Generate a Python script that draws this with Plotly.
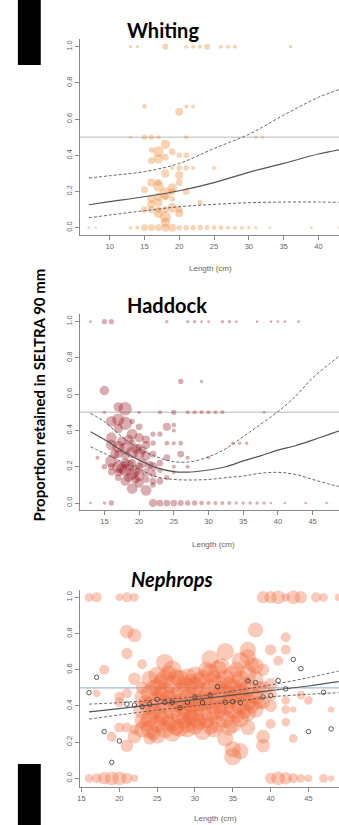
import plotly.graph_objects as go

# ---------------- Whiting ----------------
w_len = [13, 14, 18, 21, 22, 23, 24, 26, 27, 28, 36,
         15, 20, 21, 22,
         13, 15, 16, 17, 21, 31, 32,
         16, 17, 18, 19, 20, 21,
         16, 17, 18, 18, 19, 20, 21, 22, 25,
         20, 20, 17,
         16, 17, 15, 18, 19, 19, 21, 16, 17, 18, 16, 17, 15, 16, 17, 18, 19, 20, 18, 17, 18, 20, 23, 19,
         7, 8, 13, 14, 15, 16, 17, 18, 19, 20, 21, 22, 23, 24, 25, 26, 27, 28, 29, 30, 31, 33, 39, 43]
w_prop = [1, 1, 1, 1, 1, 1, 1, 1, 1, 1, 1,
          0.67, 0.64, 0.67, 0.67,
          0.5, 0.5, 0.5, 0.5, 0.5, 0.5, 0.5,
          0.43, 0.42, 0.46, 0.42, 0.40, 0.40,
          0.37, 0.38, 0.39, 0.30, 0.33, 0.33, 0.33, 0.33, 0.33,
          0.29, 0.25, 0.25,
          0.25, 0.23, 0.21, 0.19, 0.22, 0.20, 0.20, 0.16, 0.17, 0.17, 0.13, 0.14, 0.10, 0.10, 0.10, 0.10, 0.11, 0.10, 0.06, 0.08, 0.03, 0.08, 0.14, 0.16,
          0, 0, 0, 0, 0, 0, 0, 0, 0, 0, 0, 0, 0, 0, 0, 0, 0, 0, 0, 0, 0, 0, 0, 0]
w_n = [2.5, 2.5, 4.5, 3, 3, 3, 4.5, 3, 3, 3, 2.5,
       3.5, 6, 3, 3,
       2.5, 4, 4, 3, 3, 2.5, 2.5,
       4, 8, 7, 5, 4, 4,
       5, 7, 5, 6, 3, 4, 4, 3, 3,
       6, 5, 5,
       6, 8, 5, 9, 7, 5, 5, 6, 6, 5, 6, 6, 5, 5, 5, 5, 7, 5, 8, 7, 7, 6, 4, 4,
       2, 2, 2.5, 3, 5, 5, 5, 6, 6, 4, 4, 4, 4, 3.5, 3.5, 3.5, 3, 3, 3, 2.5, 2.5, 2, 2, 2]

w_fit_len = [7, 10, 15, 20, 25, 30, 35, 40, 43]
w_fit = [0.127, 0.144, 0.171, 0.204, 0.249, 0.306, 0.355, 0.407, 0.43]
w_upper = [0.275, 0.287, 0.31, 0.355, 0.438, 0.516, 0.622, 0.72, 0.764]
w_lower = [0.055, 0.07, 0.094, 0.116, 0.129, 0.138, 0.142, 0.142, 0.14]

# ---------------- Haddock ----------------
h_len = [13, 15, 16, 24, 27, 28, 29, 30, 32, 33, 34, 37, 39, 40, 41, 43, 49,
         26, 29, 15,
         17, 18,
         15, 20, 23, 25, 27, 28, 29, 30, 31, 32, 38,
         16, 17, 18, 17, 19, 20, 21, 21, 22, 23, 16, 16, 17, 18, 19, 20, 21, 22,
         16, 17, 18, 19, 20, 21, 22, 22, 16, 14, 15, 18, 19, 21, 20, 17, 18, 19, 20, 18, 17, 19, 20,
         16, 17, 21, 22, 22, 20, 19,
         17.5, 18.5, 19.5, 20.5, 17.5, 18.5, 19.5, 20.5, 16.5, 21.5, 18.5, 19.5,
         24, 25, 25, 22, 24, 25, 26, 33.5, 34.5, 35.5, 24, 26, 27, 30, 25, 27, 25, 23, 24, 23, 23,
         13, 15, 16, 22, 23, 24, 25, 26, 27, 28, 29, 30, 31, 32, 33, 34, 35, 36, 37, 38, 39, 41, 44, 47, 49]
h_prop = [1, 1, 1, 1, 1, 1, 1, 1, 1, 1, 1, 1, 1, 1, 1, 1, 1,
          0.67, 0.67, 0.62,
          0.53, 0.52,
          0.5, 0.5, 0.5, 0.5, 0.5, 0.5, 0.5, 0.5, 0.5, 0.5, 0.5,
          0.45, 0.46, 0.44, 0.41, 0.38, 0.36, 0.35, 0.32, 0.38, 0.38, 0.36, 0.32, 0.31, 0.30, 0.28, 0.27, 0.26, 0.27,
          0.23, 0.20, 0.18, 0.16, 0.15, 0.17, 0.20, 0.16, 0.20, 0.25, 0.20, 0.12, 0.08, 0.07, 0.11, 0.17, 0.22, 0.22, 0.20, 0.26, 0.27, 0.33, 0.31,
          0.17, 0.14, 0.13, 0.12, 0.10, 0.42, 0.45,
          0.19, 0.21, 0.18, 0.22, 0.34, 0.35, 0.30, 0.29, 0.27, 0.21, 0.14, 0.13,
          0.42, 0.43, 0.40, 0.33, 0.33, 0.33, 0.33, 0.33, 0.33, 0.33, 0.25, 0.27, 0.25, 0.25, 0.20, 0.20, 0.17, 0.12, 0.14, 0.22, 0.18,
          0, 0, 0, 0, 0, 0, 0, 0, 0, 0, 0, 0, 0, 0, 0, 0, 0, 0, 0, 0, 0, 0, 0, 0, 0]
h_n = [2, 4, 4, 2.5, 2.5, 2.5, 2, 2, 2.5, 2.5, 2, 2, 2, 2, 2, 2, 2,
       4, 2.5, 7,
       7, 10,
       2.5, 2.5, 3, 4, 3, 3, 3, 3, 3, 3, 2,
       8, 9, 10, 7, 8, 7, 6, 6, 4, 4, 8, 8, 9, 9, 9, 8, 7, 5,
       9, 9, 9, 9, 8, 6, 7, 5, 5, 3, 4, 7, 8, 8, 7, 6, 7, 6, 6, 6, 6, 5, 5,
       5, 5, 5, 5, 4, 5, 4,
       8, 8, 8, 7, 7, 7, 7, 6, 7, 6, 7, 6,
       6, 3.5, 3, 4, 3.5, 3, 3.5, 2.5, 2.5, 2.5, 5, 5, 3, 2.5, 3, 3, 3, 5, 4, 5, 4,
       2, 2.5, 4, 6, 5, 5, 5, 4.5, 4, 4, 3.5, 3, 3, 3, 3, 2.5, 2.5, 2.5, 2.5, 2.5, 2, 2, 2, 2, 2]

h_fit_len = [13, 15, 17.5, 20, 22.5, 25, 27.5, 30, 32.5, 35, 37.5, 40, 42.5, 45, 47.5, 49]
h_fit = [0.393, 0.35, 0.29, 0.237, 0.195, 0.173, 0.171, 0.182, 0.2, 0.232, 0.26, 0.292, 0.316, 0.347, 0.38, 0.4]
h_upper = [0.494, 0.449, 0.366, 0.30, 0.255, 0.228, 0.228, 0.255, 0.30, 0.366, 0.434, 0.504, 0.587, 0.69, 0.77, 0.816]
h_lower = [0.31, 0.274, 0.228, 0.186, 0.145, 0.13, 0.127, 0.13, 0.14, 0.149, 0.164, 0.169, 0.158, 0.13, 0.103, 0.09]

# ---------------- Nephrops ----------------
n_len = [16, 17, 20, 21, 22, 39, 40, 41, 42, 43, 44, 46, 47, 49,
         16, 17, 18, 19, 20, 21, 22, 40, 41, 42, 43, 44, 45, 47, 48,
         21, 22, 21, 18, 17, 22, 20, 20, 21, 23, 21, 19, 20, 21, 22, 22,
         23, 23, 23, 23, 23,
         24, 24, 24, 24, 24, 24,
         25, 25, 25, 25, 25, 25,
         26, 26, 26, 26, 26, 26,
         27, 27, 27, 27, 27, 27,
         28, 28, 28, 28, 28,
         29, 29, 29, 29, 29, 29,
         30, 30, 30, 30, 30, 30,
         31, 31, 31, 31, 31,
         32, 32, 32, 32, 32, 32,
         33, 33, 33, 33, 33,
         34, 34, 34, 34, 34, 34,
         35, 35, 35, 35, 35, 35, 35,
         36, 36, 36, 36, 36, 36,
         37, 37, 37, 37, 37, 37, 37,
         38, 38, 38, 38, 38,
         39, 39, 39, 39, 39,
         40, 40, 40, 40, 40,
         41, 42, 42, 42, 42, 42, 43, 43, 44, 45, 48,
         23.5, 23.5, 24.5, 24.5, 24.5, 25.5, 25.5, 25.5, 26.5, 26.5, 26.5, 27.5, 27.5, 27.5,
         28.5, 28.5, 28.5, 29.5, 29.5, 29.5, 30.5, 30.5, 30.5, 31.5, 31.5, 31.5, 32.5, 32.5, 32.5,
         33.5, 33.5, 33.5, 34.5, 34.5, 34.5, 35.5, 35.5, 35.5, 36.5, 36.5, 36.5, 37.5, 37.5, 37.5,
         38.5, 38.5]
n_prop = [1, 1, 1, 1, 1, 1, 1, 1, 1, 1, 1, 1, 1, 1,
          0, 0, 0, 0, 0, 0, 0, 0, 0, 0, 0, 0, 0, 0, 0,
          0.81, 0.79, 0.69, 0.60, 0.47, 0.55, 0.45, 0.42, 0.47, 0.63, 0.28, 0.23, 0.28, 0.18, 0.23, 0.27,
          0.50, 0.45, 0.38, 0.32, 0.27,
          0.55, 0.47, 0.40, 0.33, 0.27, 0.22,
          0.57, 0.50, 0.43, 0.36, 0.30, 0.24,
          0.64, 0.55, 0.48, 0.41, 0.34, 0.27,
          0.60, 0.52, 0.45, 0.38, 0.31, 0.25,
          0.55, 0.48, 0.42, 0.35, 0.28,
          0.56, 0.50, 0.44, 0.37, 0.30, 0.27,
          0.57, 0.51, 0.45, 0.39, 0.33, 0.29,
          0.55, 0.48, 0.42, 0.35, 0.26,
          0.66, 0.58, 0.50, 0.43, 0.36, 0.29,
          0.60, 0.52, 0.45, 0.38, 0.30,
          0.70, 0.55, 0.47, 0.40, 0.33, 0.22,
          0.57, 0.50, 0.44, 0.38, 0.30, 0.16, 0.12,
          0.65, 0.55, 0.48, 0.40, 0.33, 0.15,
          0.71, 0.67, 0.58, 0.50, 0.42, 0.36, 0.28,
          0.82, 0.62, 0.55, 0.45, 0.38,
          0.60, 0.50, 0.42, 0.23, 0.18,
          0.71, 0.52, 0.46, 0.40, 0.30,
          0.65, 0.78, 0.71, 0.43, 0.38, 0.31, 0.38, 0.22, 0.46, 0.43, 0.38,
          0.42, 0.30, 0.50, 0.37, 0.25, 0.53, 0.46, 0.33, 0.58, 0.44, 0.30, 0.56, 0.41, 0.28,
          0.52, 0.39, 0.32, 0.53, 0.41, 0.34, 0.54, 0.42, 0.31, 0.60, 0.45, 0.32, 0.55, 0.40, 0.27,
          0.62, 0.49, 0.36, 0.52, 0.43, 0.28, 0.60, 0.47, 0.35, 0.52, 0.44, 0.37, 0.63, 0.46, 0.40,
          0.50, 0.42]
n_n = [7, 8, 6, 8, 7, 10, 10, 11, 7, 11, 10, 8, 7, 6,
       7, 8, 10, 11, 11, 9, 6, 9, 11, 10, 8, 7, 6, 7, 5,
       11, 11, 9, 8, 6, 10, 8, 8, 8, 8, 8, 8, 8, 10, 11, 8,
       10, 12, 14, 12, 13,
       13, 14, 15, 14, 15, 10,
       14, 15, 15, 15, 14, 14,
       14, 15, 15, 15, 15, 14,
       15, 15, 15, 15, 15, 14,
       14, 15, 15, 15, 15,
       14, 15, 15, 15, 14, 13,
       14, 15, 15, 15, 15, 14,
       14, 15, 15, 15, 14,
       14, 15, 15, 15, 15, 14,
       15, 15, 15, 15, 14,
       14, 15, 15, 15, 15, 13,
       15, 15, 15, 15, 14, 13, 14,
       14, 14, 15, 14, 14, 13,
       13, 13, 14, 14, 14, 13, 12,
       12, 13, 13, 13, 13,
       10, 11, 11, 11, 11,
       9, 10, 10, 10, 8,
       8, 8, 8, 7, 7, 7, 5, 7, 7, 7, 5,
       12, 12, 13, 13, 12, 13, 14, 13, 13, 14, 13, 13, 14, 13,
       13, 14, 13, 13, 14, 13, 13, 14, 13, 13, 14, 13, 13, 14, 13,
       13, 14, 13, 13, 14, 13, 13, 14, 13, 12, 13, 12, 12, 13, 12,
       11, 11]

n_mean_len = [16, 17, 18, 19, 20, 21, 22, 23, 24, 25, 26, 27, 28, 29, 30, 31, 32, 33,
              34, 35, 36, 37, 38, 39, 40, 41, 42, 43, 44, 45, 47, 48]
n_mean = [0.473, 0.558, 0.258, 0.088, 0.206, 0.41, 0.405, 0.396, 0.41, 0.436, 0.42, 0.42,
          0.39, 0.42, 0.45, 0.418, 0.46, 0.506, 0.42, 0.424, 0.418, 0.538, 0.529, 0.45,
          0.457, 0.54, 0.494, 0.657, 0.606, 0.258, 0.475, 0.273]

n_fit_len = [16, 20, 25, 30, 35, 40, 45, 49]
n_fit = [0.367, 0.385, 0.41, 0.435, 0.46, 0.485, 0.51, 0.534]
n_upper = [0.41, 0.418, 0.433, 0.45, 0.482, 0.516, 0.556, 0.593]
n_lower = [0.327, 0.35, 0.377, 0.40, 0.423, 0.45, 0.464, 0.473]

x_ticks_w = [10, 15, 20, 25, 30, 35, 40]
x_ticks_h = [15, 20, 25, 30, 35, 40, 45]
x_ticks_n = [15, 20, 25, 30, 35, 40, 45]
y_ticks = [0, 0.2, 0.4, 0.6, 0.8, 1.0]
y_tick_text = ["0.0", "0.2", "0.4", "0.6", "0.8", "1.0"]

fig = go.Figure()

panels = [
    ("x", "y", w_len, w_prop, w_n, "rgba(238,140,60,0.55)", 1.35, w_fit_len, w_fit, w_upper, w_lower),
    ("x2", "y2", h_len, h_prop, h_n, "rgba(150,20,30,0.5)", 1.35, h_fit_len, h_fit, h_upper, h_lower),
    ("x3", "y3", n_len, n_prop, n_n, "rgba(242,105,60,0.5)", 1.25, n_fit_len, n_fit, n_upper, n_lower),
]
for xa, ya, lx, py, sz, col, scale, fl, fv, fu, flo in panels:
    fig.add_trace(go.Scatter(x=lx, y=py, mode="markers", xaxis=xa, yaxis=ya,
                             marker=dict(size=[s * scale for s in sz], color=col, line=dict(width=0)),
                             showlegend=False, hoverinfo="skip"))
    if xa == "x3":
        fig.add_trace(go.Scatter(x=n_mean_len, y=n_mean, mode="markers", xaxis=xa, yaxis=ya,
                                 marker=dict(size=4.5, color="rgba(0,0,0,0)",
                                             line=dict(width=0.8, color="#333")),
                                 showlegend=False, hoverinfo="skip"))
    fig.add_trace(go.Scatter(x=fl, y=fv, mode="lines", xaxis=xa, yaxis=ya, line_shape="spline",
                             line=dict(color="#555", width=1.2), showlegend=False, hoverinfo="skip"))
    for band in (fu, flo):
        fig.add_trace(go.Scatter(x=fl, y=band, mode="lines", xaxis=xa, yaxis=ya, line_shape="spline",
                                 line=dict(color="#555", width=0.9, dash="3px,2px"),
                                 showlegend=False, hoverinfo="skip"))

xd = [78 / 339, 1.0]
axis_common = dict(showline=True, linecolor="#888", linewidth=1, ticks="outside", ticklen=4,
                   tickcolor="#888", tickwidth=1, showgrid=False, zeroline=False,
                   tickfont=dict(family="Liberation Sans", size=7.5, color="#666"))
fig.update_layout(
    width=339, height=825, margin=dict(l=0, r=0, t=0, b=0), autosize=False,
    paper_bgcolor="white", plot_bgcolor="white",
    xaxis=dict(domain=xd, range=[5.67, 42.96], tickvals=x_ticks_w, anchor="y", **axis_common),
    yaxis=dict(domain=[0.7152, 0.9522], range=[-0.04, 1.04], tickvals=y_ticks, ticktext=y_tick_text,
               tickangle=-90, anchor="x", **axis_common),
    xaxis2=dict(domain=xd, range=[11.42, 48.8], tickvals=x_ticks_h, anchor="y2", **axis_common),
    yaxis2=dict(domain=[0.3815, 0.6189], range=[-0.04, 1.04], tickvals=y_ticks, ticktext=y_tick_text,
                tickangle=-90, anchor="x2", **axis_common),
    xaxis3=dict(domain=xd, range=[14.74, 49.04], tickvals=x_ticks_n, anchor="y3", **axis_common),
    yaxis3=dict(domain=[0.0461, 0.2847], range=[-0.048, 1.04], tickvals=y_ticks, ticktext=y_tick_text,
                tickangle=-90, anchor="x3", **axis_common),
)

shapes = [
    dict(type="rect", xref="paper", yref="paper", x0=16 / 339, x1=39 / 339, y0=1 - 65 / 825, y1=1,
         fillcolor="black", line=dict(width=0)),
    dict(type="rect", xref="paper", yref="paper", x0=16 / 339, x1=39 / 339, y0=0, y1=1 - 764 / 825,
         fillcolor="black", line=dict(width=0)),
    dict(type="line", xref="x domain", yref="y", x0=0, x1=1, y0=0.5, y1=0.5,
         line=dict(color="#cfcfcf", width=1.5), layer="below"),
    dict(type="line", xref="x2 domain", yref="y2", x0=0, x1=1, y0=0.5, y1=0.5,
         line=dict(color="#cfcfcf", width=1.5), layer="below"),
    dict(type="line", xref="x3 domain", yref="y3", x0=0, x1=1, y0=0.5, y1=0.5,
         line=dict(color="#a9bccf", width=1.2), layer="below"),
]
fig.update_layout(shapes=shapes)

title_font = dict(family="Lato", size=20, color="black")
small = dict(family="Liberation Sans", size=8, color="#666")
ann = [
    dict(text="<b>Whiting</b>", x=162 / 339, y=1 - 30 / 825, font=title_font),
    dict(text="<b>Haddock</b>", x=166 / 339, y=1 - 305 / 825, font=title_font),
    dict(text="<b><i>Nephrops</i></b>", x=171 / 339, y=1 - 579 / 825, font=title_font),
    dict(text="<b>Proportion retained in SELTRA 90 mm</b>", x=37.7 / 339, y=1 - 395 / 825,
         textangle=-90, font=dict(family="Lato", size=15, color="black")),
    dict(text="Length (cm)", x=210 / 339, y=1 - 268 / 825, font=small),
    dict(text="Length (cm)", x=213 / 339, y=1 - 544 / 825, font=small),
    dict(text="Length (cm)", x=215 / 339, y=1 - 818 / 825, font=small),
]
for a in ann:
    a.update(xref="paper", yref="paper", showarrow=False, xanchor="center", yanchor="middle")
fig.update_layout(annotations=ann)

fig.write_html("out.html")
